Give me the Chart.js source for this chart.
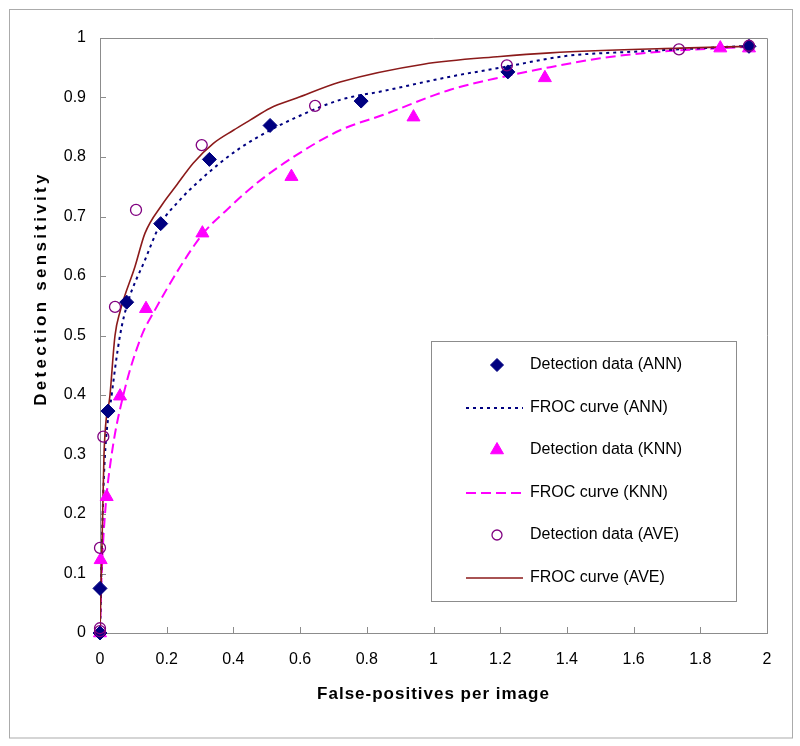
<!DOCTYPE html>
<html><head><meta charset="utf-8">
<script src="https://cdn.jsdelivr.net/npm/chart.js@4.4.1/dist/chart.umd.min.js"></script>
<style>html,body{margin:0;padding:0;background:#fff}canvas{display:block}</style>
</head><body>
<canvas id="c" width="800" height="746"></canvas>
<script>
// ---- data ----
const xTickValues = [0, 0.2, 0.4, 0.6, 0.8, 1, 1.2, 1.4, 1.6, 1.8, 2];
const xTickLabels = ['0', '0.2', '0.4', '0.6', '0.8', '1', '1.2', '1.4', '1.6', '1.8', '2'];
const yTickValues = [0, 0.1, 0.2, 0.3, 0.4, 0.5, 0.6, 0.7, 0.8, 0.9, 1];
const yTickLabels = ['0', '0.1', '0.2', '0.3', '0.4', '0.5', '0.6', '0.7', '0.8', '0.9', '1'];

const seriesNames = ['Detection data (ANN)', 'FROC curve (ANN)', 'Detection data (KNN)',
                     'FROC curve (KNN)', 'Detection data (AVE)', 'FROC curve (AVE)'];

const annX = [0, 0, 0.024, 0.08, 0.182, 0.328, 0.51, 0.783, 1.223, 1.946];
const annY = [0, 0.075, 0.373, 0.556, 0.688, 0.796, 0.853, 0.894, 0.943, 0.986];

const knnX = [0, 0.002, 0.02, 0.06, 0.138, 0.307, 0.574, 0.94, 1.334, 1.86, 1.946];
const knnY = [0, 0.123, 0.229, 0.398, 0.545, 0.672, 0.767, 0.867, 0.933, 0.983, 0.983];

const aveX = [0, 0, 0, 0.01, 0.045, 0.108, 0.305, 0.645, 1.22, 1.736, 1.946];
const aveY = [0.003, 0.008, 0.143, 0.33, 0.548, 0.711, 0.82, 0.886, 0.954, 0.981, 0.987];

const annCurveX = [0, 0.004, 0.008, 0.015, 0.035, 0.06, 0.083, 0.135, 0.18, 0.24, 0.29, 0.36, 0.42, 0.51, 0.59, 0.72, 0.85, 1.05, 1.21, 1.4, 1.6, 1.74, 1.95];
const annCurveY = [0, 0.1, 0.2, 0.3, 0.4, 0.5, 0.555, 0.627, 0.686, 0.728, 0.756, 0.79, 0.815, 0.845, 0.867, 0.896, 0.911, 0.935, 0.951, 0.97, 0.977, 0.981, 0.987];

const knnCurveX = [0, 0.005, 0.015, 0.035, 0.07, 0.125, 0.16, 0.24, 0.31, 0.38, 0.47, 0.58, 0.72, 0.85, 1.05, 1.21, 1.35, 1.5, 1.68, 1.94];
const knnCurveY = [0, 0.1, 0.2, 0.3, 0.4, 0.5, 0.538, 0.615, 0.672, 0.711, 0.756, 0.8, 0.845, 0.871, 0.913, 0.935, 0.951, 0.966, 0.977, 0.985];

const aveCurveX = [0, 0.004, 0.008, 0.012, 0.03, 0.045, 0.06, 0.105, 0.135, 0.185, 0.23, 0.28, 0.34, 0.4, 0.45, 0.51, 0.59, 0.72, 0.97, 1.2, 1.35, 1.74, 1.95];
const aveCurveY = [0, 0.1, 0.2, 0.3, 0.4, 0.5, 0.54, 0.616, 0.672, 0.719, 0.753, 0.79, 0.823, 0.845, 0.862, 0.882, 0.899, 0.926, 0.956, 0.969, 0.975, 0.983, 0.986];

// ---- helpers ----
const pts = (xs, ys) => xs.map((x, i) => ({x: x, y: ys[i]}));
const FONT = "'Liberation Sans', Arial, sans-serif";

function spaceTitle(scale, spacing, dy) {
  if (!scale || scale.__spaced) return;
  const orig = scale.drawTitle;
  scale.drawTitle = function () {
    const ctx = this.ctx;
    ctx.save();
    ctx.letterSpacing = spacing;
    ctx.translate(0, dy);
    orig.apply(this, arguments);
    ctx.restore();
  };
  scale.__spaced = true;
}

const framePlugin = {
  id: 'frame',
  afterUpdate(chart) {
    spaceTitle(chart.scales.x, '1px', 0);
    spaceTitle(chart.scales.y, '3.3px', -47);
  },
  beforeDraw(chart) {
    const ctx = chart.ctx;
    ctx.save();
    ctx.fillStyle = '#fff';
    ctx.fillRect(0, 0, chart.width, chart.height);
    ctx.strokeStyle = '#ababab';
    ctx.lineWidth = 1;
    ctx.strokeRect(9.5, 9.5, 783, 728.5);
    ctx.restore();
  },
  beforeDatasetsDraw(chart) {
    const {ctx, chartArea: a, scales: {x, y}} = chart;
    ctx.save();
    ctx.strokeStyle = '#8c8c8c';
    ctx.lineWidth = 1;
    ctx.beginPath();
    const t = Math.round(a.top) + 0.5, r = Math.round(a.right) + 0.5;
    ctx.moveTo(a.left, t); ctx.lineTo(r, t);
    ctx.moveTo(r, t); ctx.lineTo(r, a.bottom);
    x.ticks.forEach(tk => {
      const px = Math.round(x.getPixelForValue(tk.value)) + 0.5;
      ctx.moveTo(px, a.bottom); ctx.lineTo(px, a.bottom - 6);
    });
    y.ticks.forEach(tk => {
      const py = Math.round(y.getPixelForValue(tk.value)) + 0.5;
      ctx.moveTo(a.left, py); ctx.lineTo(a.left + 6, py);
    });
    ctx.stroke();
    ctx.restore();
  },
  afterDraw(chart) {
    const ctx = chart.ctx;
    const box = {l: 431.5, t: 341.5, w: 305, h: 260};
    ctx.save();
    ctx.fillStyle = '#fff';
    ctx.fillRect(box.l, box.t, box.w, box.h);
    ctx.strokeStyle = '#8c8c8c';
    ctx.lineWidth = 1;
    ctx.strokeRect(box.l, box.t, box.w, box.h);
    const rowY = [365, 408, 450, 493, 535, 578];
    chart.data.datasets.forEach((ds, i) => {
      const yy = rowY[i];
      ctx.save();
      if (ds.showLine === false) {
        ctx.fillStyle = ds.backgroundColor;
        ctx.strokeStyle = ds.borderColor;
        ctx.lineWidth = ds.pointBorderWidth;
        Chart.helpers.drawPoint(ctx, {pointStyle: ds.pointStyle, radius: ds.legendRadius, rotation: 0, borderWidth: ds.pointBorderWidth}, 497, yy);
      } else {
        ctx.strokeStyle = ds.borderColor;
        ctx.lineWidth = ds.borderWidth;
        ctx.setLineDash(ds.borderDash || []);
        ctx.beginPath();
        ctx.moveTo(466, yy); ctx.lineTo(523, yy);
        ctx.stroke();
      }
      ctx.restore();
      ctx.fillStyle = '#000';
      ctx.font = "16px " + FONT;
      ctx.textBaseline = 'middle';
      ctx.textAlign = 'left';
      ctx.fillText(ds.label, 530, yy);
    });
    ctx.restore();
  }
};

const NAVY = '#000080', MAGENTA = '#ff00ff', PURPLE = '#800080', DARKRED = '#8b1a1a';

new Chart(document.getElementById('c'), {
  type: 'scatter',
  data: {
    datasets: [
      {label: seriesNames[0], data: pts(annX, annY), showLine: false, pointStyle: 'rectRot',
       pointRadius: 7, legendRadius: 6.5, backgroundColor: NAVY, borderColor: NAVY, pointBorderWidth: 1, clip: false, order: 1},
      {label: seriesNames[1], data: pts(annCurveX, annCurveY), showLine: true, pointRadius: 0,
       borderColor: NAVY, backgroundColor: NAVY, borderWidth: 2, borderDash: [3, 4], cubicInterpolationMode: 'monotone', order: 5},
      {label: seriesNames[2], data: pts(knnX, knnY), showLine: false, pointStyle: 'triangle',
       pointRadius: 7.5, legendRadius: 7.5, backgroundColor: MAGENTA, borderColor: MAGENTA, pointBorderWidth: 1, clip: false, order: 2},
      {label: seriesNames[3], data: pts(knnCurveX, knnCurveY), showLine: true, pointRadius: 0,
       borderColor: MAGENTA, backgroundColor: MAGENTA, borderWidth: 2, borderDash: [10, 5], cubicInterpolationMode: 'monotone', order: 6},
      {label: seriesNames[4], data: pts(aveX, aveY), showLine: false, pointStyle: 'circle',
       pointRadius: 5.5, legendRadius: 5, backgroundColor: 'rgba(255,255,255,0)', borderColor: PURPLE, pointBorderWidth: 1.3, clip: false, order: 0},
      {label: seriesNames[5], data: pts(aveCurveX, aveCurveY), showLine: true, pointRadius: 0,
       borderColor: DARKRED, backgroundColor: DARKRED, borderWidth: 1.6, cubicInterpolationMode: 'monotone', order: 4}
    ]
  },
  options: {
    responsive: false,
    animation: false,
    devicePixelRatio: 1,
    layout: {padding: {top: 38, right: 33, left: 0, bottom: 0}},
    plugins: {legend: {display: false}, tooltip: {enabled: false}},
    elements: {point: {hoverRadius: 0}},
    scales: {
      x: {
        type: 'linear', min: 0, max: 2,
        afterBuildTicks: s => { s.ticks = xTickValues.map(v => ({value: v})); },
        afterFit: s => { s.height = 113; },
        grid: {display: false, drawTicks: false},
        border: {display: true, color: '#8c8c8c', width: 1},
        ticks: {
          padding: 17, color: '#000', font: {family: FONT, size: 16}, maxRotation: 0, autoSkip: false,
          callback: (v, i) => xTickLabels[i]
        },
        title: {display: true, text: 'False-positives per image', color: '#000',
                font: {family: FONT, size: 17, weight: 'bold'}, padding: {top: 0, bottom: 41}}
      },
      y: {
        type: 'linear', min: 0, max: 1,
        afterBuildTicks: s => { s.ticks = yTickValues.map(v => ({value: v})); },
        afterFit: s => { s.width = 100; },
        grid: {display: false, drawTicks: false},
        border: {display: true, color: '#8c8c8c', width: 1},
        ticks: {
          padding: 14, color: '#000', font: {family: FONT, size: 16}, autoSkip: false,
          callback: (v, i) => yTickLabels[i]
        },
        title: {display: true, text: 'Detection sensitivity', color: '#000',
                font: {family: FONT, size: 17, weight: 'bold'}, padding: {top: 31, bottom: 0}}
      }
    }
  },
  plugins: [framePlugin]
});
</script>
</body></html>
